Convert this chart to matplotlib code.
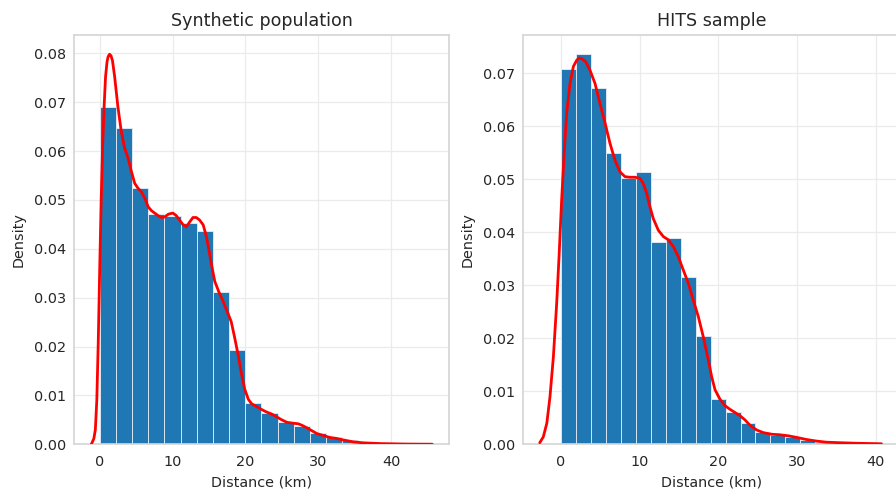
import numpy as np
import matplotlib
matplotlib.use("Agg")
import matplotlib.pyplot as plt
import seaborn as sns

sns.set_style("whitegrid")
plt.rcParams['font.family'] = ['DejaVu Sans']

# ---------------- data ----------------
titles = ["Synthetic population", "HITS sample"]
x_label = "Distance (km)"
y_label = "Density"

syn_bin_edges = [0, 2.22, 4.44, 6.66, 8.88, 11.1, 13.32, 15.54, 17.76, 19.98, 22.2,
                 24.42, 26.64, 28.86, 31.08, 33.3, 35.52, 37.74, 39.96, 42.18, 44.4]
syn_density = [0.0691, 0.0648, 0.0525, 0.0472, 0.0467, 0.0453, 0.0436, 0.0311, 0.0193, 0.00845,
               0.00634, 0.00463, 0.00374, 0.00238, 0.00143, 0.00082, 0.00047, 0.0002, 0.0001, 0.00005]

syn_kde_x = [-1.15, -0.8, -0.6, -0.4, -0.2, 0.0, 0.2, 0.4, 0.6, 0.8,
             1.0, 1.15, 1.35, 1.55, 1.75, 2.05, 2.5, 2.95, 3.4, 3.9,
             4.35, 4.8, 5.25, 5.7, 6.2, 6.65, 7.1, 7.55, 8.0, 8.45,
             8.9, 9.45, 10.05, 10.5, 11.0, 11.45, 11.9, 12.35, 12.8, 13.25,
             13.7, 14.2, 14.65, 14.95, 15.35, 15.8, 16.35, 16.95, 17.6, 18.05,
             18.5, 19.0, 19.45, 19.9, 20.4, 20.85, 21.55, 22.25, 22.9, 23.6,
             24.3, 25.0, 25.7, 26.6, 27.25, 27.75, 28.4, 29.1, 29.8, 30.7,
             31.6, 32.5, 33.4, 34.8, 36.2, 38.5, 42.1, 45.65]
syn_kde_y = [0.0, 0.0012, 0.003, 0.009, 0.021, 0.036, 0.050, 0.061, 0.069, 0.0752,
             0.0782, 0.0793, 0.0798, 0.0795, 0.0785, 0.0752, 0.0690, 0.0641, 0.0607, 0.0585,
             0.0558, 0.0534, 0.0524, 0.0517, 0.0503, 0.0486, 0.0478, 0.0473, 0.0468, 0.0464,
             0.0465, 0.0471, 0.0473, 0.0468, 0.0458, 0.0449, 0.0445, 0.0455, 0.0464, 0.0464,
             0.0459, 0.0449, 0.0425, 0.0401, 0.0367, 0.0333, 0.0312, 0.0292, 0.0268, 0.0251,
             0.0220, 0.0183, 0.0145, 0.0113, 0.0092, 0.0083, 0.0077, 0.0071, 0.0066, 0.0062,
             0.0056, 0.0050, 0.0045, 0.0043, 0.0042, 0.0039, 0.0034, 0.0028, 0.0022, 0.0018,
             0.0014, 0.0012, 0.0009, 0.0005, 0.0003, 0.00015, 0.00005, 0.00002]

hits_bin_edges = [0, 1.9, 3.8, 5.7, 7.6, 9.5, 11.4, 13.3, 15.2, 17.1, 19.0,
                  20.9, 22.8, 24.7, 26.6, 28.5, 30.4, 32.3, 34.2, 36.1, 38.0]
hits_density = [0.0708, 0.0736, 0.0672, 0.0549, 0.0503, 0.0514, 0.0381, 0.0390, 0.0316, 0.0204,
                0.0085, 0.00615, 0.0041, 0.0023, 0.0018, 0.0013, 0.0008, 0.0004, 0.0002, 0.0001]

hits_kde_x = [-2.7, -2.25, -1.8, -1.4, -0.97, -0.55, -0.25, 0.08, 0.42, 0.72,
              1.14, 1.57, 2.0, 2.3, 2.62, 3.13, 3.68, 4.32, 4.95, 5.6,
              6.22, 6.86, 7.5, 8.13, 8.76, 9.4, 10.03, 10.45, 10.88, 11.3,
              11.72, 12.36, 13.0, 13.63, 14.27, 14.9, 15.53, 16.17, 16.8, 17.44,
              18.07, 18.71, 19.13, 19.56, 20.19, 20.83, 21.46, 22.1, 22.73, 23.37,
              24.0, 24.85, 25.7, 26.75, 27.8, 28.87, 29.93, 31.2, 32.5, 33.7,
              35.4, 37.5, 40.7]
hits_kde_y = [0.0003, 0.0014, 0.004, 0.009, 0.0165, 0.0266, 0.0354, 0.0461, 0.0555, 0.0625,
              0.0681, 0.0713, 0.0725, 0.0729, 0.0728, 0.0722, 0.0706, 0.0681, 0.0643, 0.0606,
              0.0568, 0.0536, 0.0514, 0.0505, 0.0504, 0.0504, 0.0502, 0.0492, 0.0474, 0.0448,
              0.0426, 0.0404, 0.0392, 0.0386, 0.0373, 0.0354, 0.0329, 0.0304, 0.0272, 0.0241,
              0.0203, 0.0159, 0.0128, 0.0103, 0.0085, 0.0073, 0.0066, 0.006, 0.0054, 0.0046,
              0.0036, 0.0027, 0.0022, 0.0019, 0.0018, 0.0016, 0.0013, 0.0009, 0.0006, 0.0004,
              0.0003, 0.0002, 0.0001]

# ---------------- figure ----------------
W, H = 896, 496
fig = plt.figure(figsize=(W / 100, H / 100), dpi=100)

panels = [
    (syn_bin_edges, syn_density, syn_kde_x, syn_kde_y, titles[0],
     [74.3 / W, (H - 444.3) / H, 375.0 / W, 409.6 / H], (-3.49, 47.99), (0, 0.0838)),
    (hits_bin_edges, hits_density, hits_kde_x, hits_kde_y, titles[1],
     [523.3 / W, (H - 444.3) / H, 376.0 / W, 409.6 / H], (-4.79, 42.97), (0, 0.0773)),
]

text_color = '#262626'
for edges, dens, kx, ky, title, rect, xl, yl in panels:
    ax = fig.add_axes(rect)
    edges = np.asarray(edges)
    ax.bar(edges[:-1], dens, width=np.diff(edges), align='edge',
           color='#1f77b4', edgecolor='#e8eef5', linewidth=0.6, zorder=2)
    ax.plot(kx, ky, color='red', linewidth=2, zorder=3)
    ax.set_xlim(*xl)
    ax.set_ylim(*yl)
    ax.set_title(title, fontsize=12.6, color=text_color, pad=6)
    ax.set_xlabel(x_label, fontsize=10.4, color=text_color, labelpad=4.5)
    ax.set_ylabel(y_label, fontsize=10.4, color=text_color, labelpad=6)
    ax.tick_params(axis='x', labelsize=10.4, colors=text_color, length=0, pad=8)
    ax.tick_params(axis='y', labelsize=10.4, colors=text_color, length=0, pad=6)
    ax.set_xticks([0, 10, 20, 30, 40])
    ax.grid(True, color='#ebebeb', linewidth=0.9)
    ax.set_axisbelow(True)
    for s in ax.spines.values():
        s.set_color('#d6d6d6')
        s.set_linewidth(1.25)

fig.savefig("out.png", dpi=100)
